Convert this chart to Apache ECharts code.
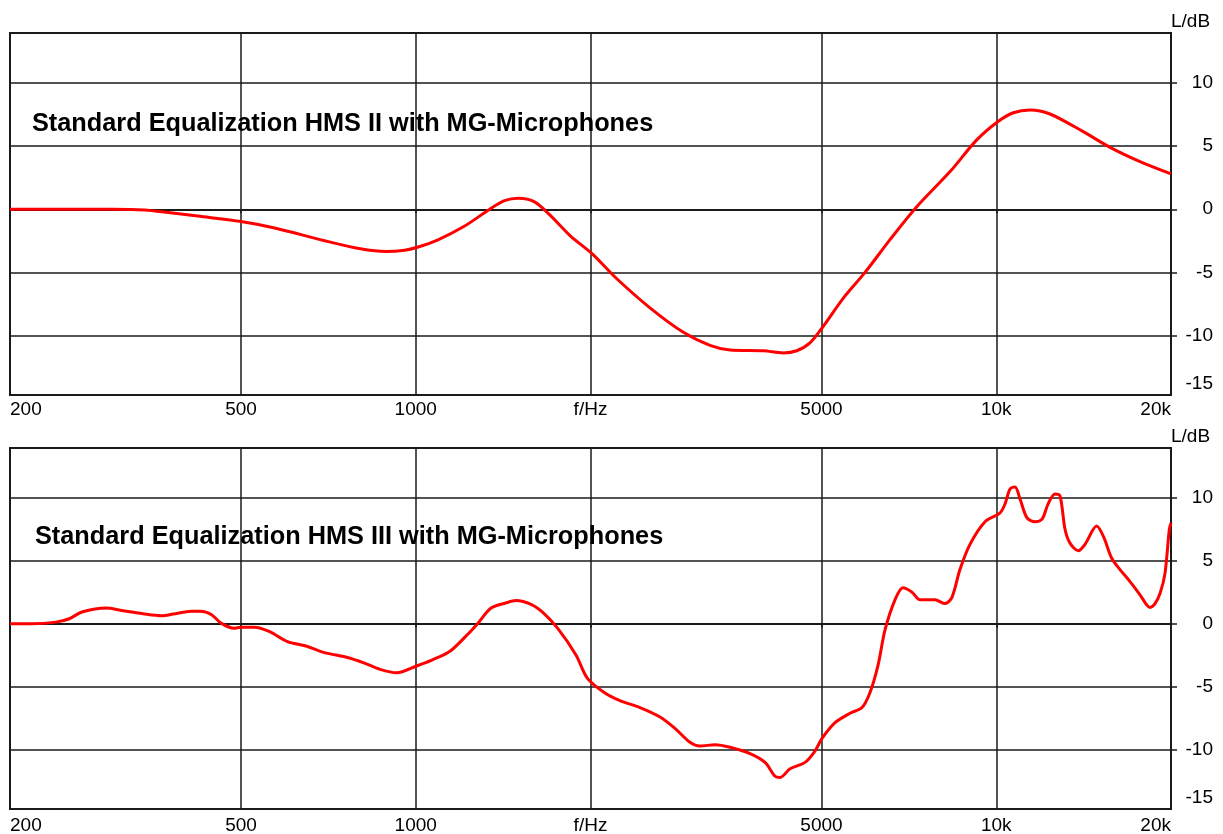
<!DOCTYPE html>
<html>
<head>
<meta charset="utf-8">
<script src="https://cdn.jsdelivr.net/npm/echarts@6/dist/echarts.min.js"></script>
<style>
html,body{margin:0;padding:0;background:#fff;}
#chart{width:1223px;height:834px;}
</style>
</head>
<body>
<div id="chart"></div>
<script>
// ---- data ----
const titles = ['Standard Equalization HMS II with MG-Microphones', 'Standard Equalization HMS III with MG-Microphones'];

const xTickFreqs = [200, 500, 1000, 2000, 5000, 10000, 20000];
const xTickLabels = ['200', '500', '1000', 'f/Hz', '5000', '10k', '20k'];
const yTickValues = [-15, -10, -5, 0, 5, 10];
const yTickLabels = ['-15', '-10', '-5', '0', '5', '10'];

const hmsIIFreq = [200, 250, 300, 341, 375, 428, 500, 574, 694, 803, 890, 957, 1003, 1092, 1210, 1341, 1422, 1503, 1599, 1700, 1846, 2016, 2220, 2532, 2891, 3213, 3479, 3970, 4297, 4532, 4776, 5035, 5453, 5942, 6562, 7295, 8326, 9256, 10060, 10700, 11434, 12376, 14124, 15704, 17688, 20000];
const hmsIIdB = [0, 0, 0, -0.05, -0.26, -0.58, -0.97, -1.5, -2.47, -3.13, -3.34, -3.24, -3.03, -2.42, -1.37, 0, 0.68, 0.87, 0.6, -0.42, -2.1, -3.55, -5.5, -7.8, -9.74, -10.77, -11.14, -11.2, -11.37, -11.2, -10.58, -9.26, -7.03, -5.0, -2.4, 0.2, 2.98, 5.49, 6.93, 7.64, 7.86, 7.54, 6.14, 4.9, 3.77, 2.8];

const hmsIIIFreq = [200, 218, 240, 253, 266, 293, 311, 339, 365, 382, 411, 426, 445, 462, 486, 500, 527, 559, 601, 647, 696, 760, 818, 868, 927, 1003, 1066, 1147, 1234, 1280, 1348, 1429, 1488, 1583, 1655, 1755, 1888, 1976, 2118, 2248, 2434, 2635, 2796, 2968, 3088, 3278, 3479, 3766, 3997, 4158, 4243, 4414, 4684, 4872, 5010, 5276, 5598, 5871, 6061, 6256, 6431, 6692, 6908, 7160, 7391, 7842, 8160, 8389, 8659, 9010, 9565, 10152, 10352, 10562, 10772, 10990, 11298, 11664, 11992, 12280, 12624, 12878, 13136, 13398, 13846, 14220, 14894, 15290, 15810, 16336, 17000, 17688, 18162, 18400, 18770, 19146, 19530, 19868, 20000];
const hmsIIIdB = [0, 0, 0.13, 0.4, 0.93, 1.25, 1.06, 0.8, 0.64, 0.77, 0.99, 0.99, 0.72, 0.05, -0.35, -0.27, -0.27, -0.61, -1.41, -1.76, -2.29, -2.66, -3.14, -3.62, -3.89, -3.35, -2.88, -2.16, -0.75, 0.05, 1.25, 1.65, 1.84, 1.52, 0.9, -0.35, -2.48, -4.34, -5.5, -6.1, -6.65, -7.4, -8.3, -9.4, -9.7, -9.6, -9.8, -10.3, -11.0, -12.1, -12.2, -11.5, -11.0, -10.1, -9.1, -7.85, -7.1, -6.65, -5.45, -3.3, -0.5, 1.9, 2.85, 2.5, 1.9, 1.9, 1.6, 2.1, 4.3, 6.3, 8.1, 8.8, 9.5, 10.7, 10.85, 9.9, 8.4, 8.1, 8.3, 9.5, 10.3, 10.15, 7.5, 6.4, 5.8, 6.3, 7.75, 6.95, 5.2, 4.3, 3.35, 2.3, 1.5, 1.3, 1.6, 2.4, 4.0, 7.5, 8.0];

// ---- options ----
const Y_MIN = -14.7, Y_MAX = 13.95;
const FONT = '"Liberation Sans", Arial, sans-serif';
const lg = v => Math.log10(v);
const xTickPos = xTickFreqs.map(lg);
const yLabelPos = yTickValues.map(v => v === -15 ? -13.8 : v);

function xLabel(v) {
  const i = xTickPos.findIndex(p => Math.abs(p - v) < 1e-6);
  return i >= 0 ? xTickLabels[i] : '';
}
function yLabel(v) {
  const i = yLabelPos.findIndex(p => Math.abs(p - v) < 1e-6);
  return i >= 0 ? yTickLabels[i] : '';
}

const lineCol = '#1a1a1a';
function xAxisFor(g, margin) {
  return {
    type: 'value', gridIndex: g, min: lg(200), max: lg(20000),
    axisLine: { show: true, lineStyle: { color: lineCol, width: 2 } },
    axisTick: { show: true, customValues: xTickPos, length: 4, lineStyle: { color: lineCol, width: 1.5 } },
    axisLabel: { customValues: xTickPos, formatter: xLabel, margin: margin, color: '#000', fontFamily: FONT, fontSize: 19, alignMinLabel: 'left', alignMaxLabel: 'right' },
    splitLine: { show: true, lineStyle: { color: lineCol, width: 1.5 } }
  };
}
function yAxisFor(g) {
  return {
    type: 'value', gridIndex: g, position: 'right', min: Y_MIN, max: Y_MAX,
    name: 'L/dB', nameLocation: 'end', nameGap: 2,
    nameTextStyle: { color: '#000', fontFamily: FONT, fontSize: 19, align: 'left', verticalAlign: 'bottom' },
    axisLine: { show: true, lineStyle: { color: lineCol, width: 2 } },
    axisTick: { show: true, customValues: [-10, -5, 0, 5, 10], length: 6, lineStyle: { color: lineCol, width: 1.5 } },
    axisLabel: { customValues: yLabelPos, formatter: yLabel, margin: 42, align: 'right', color: '#000', fontFamily: FONT, fontSize: 19 },
    splitLine: { show: true, lineStyle: { color: lineCol, width: 1.5 } }
  };
}

const option = {
  animation: false,
  backgroundColor: '#fff',
  title: [
    { text: titles[0], left: 32, top: 112, padding: 0, textStyle: { fontFamily: FONT, fontSize: 25.3, fontWeight: 'bold', color: '#000' } },
    { text: titles[1], left: 35, top: 525, padding: 0, textStyle: { fontFamily: FONT, fontSize: 25.3, fontWeight: 'bold', color: '#000' } }
  ],
  grid: [
    { left: 10, right: 52, top: 33, height: 362, show: true, borderColor: lineCol, borderWidth: 2, backgroundColor: 'transparent', outerBoundsMode: 'none', containLabel: false },
    { left: 10, right: 52, top: 448, height: 361, show: true, borderColor: lineCol, borderWidth: 2, backgroundColor: 'transparent', outerBoundsMode: 'none', containLabel: false }
  ],
  xAxis: [xAxisFor(0, 5), xAxisFor(1, 7)],
  yAxis: [yAxisFor(0), yAxisFor(1)],
  series: [
    { type: 'line', xAxisIndex: 0, yAxisIndex: 0, showSymbol: false, smooth: 0.3, z: 5,
      lineStyle: { color: '#ff0000', width: 3 },
      data: hmsIIFreq.map((f, i) => [lg(f), hmsIIdB[i]]) },
    { type: 'line', xAxisIndex: 1, yAxisIndex: 1, showSymbol: false, smooth: 0.3, z: 5,
      lineStyle: { color: '#ff0000', width: 3 },
      data: hmsIIIFreq.map((f, i) => [lg(f), hmsIIIdB[i]]) }
  ]
};

const chart = echarts.init(document.getElementById('chart'), null, { renderer: 'canvas' });
chart.setOption(option);
</script>
</body>
</html>
